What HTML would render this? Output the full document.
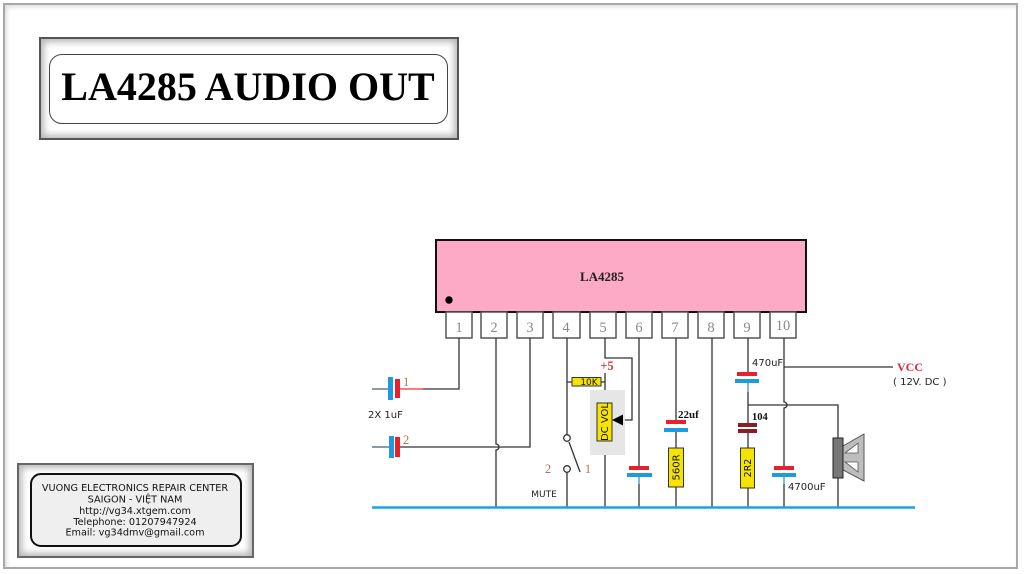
<!DOCTYPE html>
<html>
<head>
<meta charset="utf-8">
<style>
html,body{margin:0;padding:0;background:#fff;}
body{width:1024px;height:574px;position:relative;overflow:hidden;}
.frame{position:absolute;left:3px;top:3px;width:1015px;height:566px;border:2px solid #a8a8a8;box-sizing:border-box;box-shadow:inset 2px 2px 4px #ddd;}
.tbox{position:absolute;left:39px;top:37px;width:420px;height:103px;border:2px solid #555;box-sizing:border-box;background:#fff;box-shadow:inset 0 0 7px 3px #b8b8b8;}
.tin{position:absolute;left:49px;top:54px;width:399px;height:70px;border:1px solid #444;box-sizing:border-box;border-radius:13px;background:#fff;}
.ibox{position:absolute;left:17px;top:463px;width:237px;height:95px;border:2px solid #666;box-sizing:border-box;background:#fff;box-shadow:inset 0 0 7px 3px #b8b8b8;}
.iin{position:absolute;left:30px;top:473px;width:212px;height:74px;border:2px solid #111;box-sizing:border-box;border-radius:11px;background:#efefef;}
svg{position:absolute;left:0;top:0;}
</style>
</head>
<body>
<div class="frame"></div>
<div class="tbox"></div>
<div class="tin"></div>
<div class="ibox"></div>
<div class="iin"></div>
<svg width="1024" height="574" viewBox="0 0 1024 574" xmlns="http://www.w3.org/2000/svg">
  <!-- Title -->
  <text x="248" y="100" text-anchor="middle" font-family="Liberation Serif, serif" font-weight="bold" font-size="40" fill="#000">LA4285 AUDIO OUT</text>

  <!-- Info text -->
  <g font-family="DejaVu Sans, Liberation Sans, sans-serif" font-size="9.7" fill="#111" text-anchor="middle">
    <text x="135" y="491">VUONG ELECTRONICS REPAIR CENTER</text>
    <text x="135" y="502.5">SAIGON - VIỆT NAM</text>
    <text x="135" y="514">http://vg34.xtgem.com</text>
    <text x="135" y="525">Telephone: 01207947924</text>
    <text x="135" y="535.5">Email: vg34dmv@gmail.com</text>
  </g>

  <!-- IC body -->
  <rect x="436" y="240" width="370" height="72" fill="#fcaac6" stroke="#111" stroke-width="2"/>
  <text x="602" y="281" text-anchor="middle" font-family="Liberation Serif, serif" font-weight="bold" font-size="13" fill="#222">LA4285</text>
  <circle cx="449" cy="300" r="3.7" fill="#000"/>

  <!-- Pin boxes -->
  <g fill="#fff" stroke="#555" stroke-width="1.5">
    <rect x="446" y="312" width="26" height="26"/>
    <rect x="481" y="312" width="26" height="26"/>
    <rect x="517" y="312" width="26" height="26"/>
    <rect x="553" y="312" width="27" height="26"/>
    <rect x="590" y="312" width="26" height="26"/>
    <rect x="626" y="312" width="26" height="26"/>
    <rect x="662" y="312" width="26" height="26"/>
    <rect x="698" y="312" width="26" height="26"/>
    <rect x="734" y="312" width="26" height="26"/>
    <rect x="770" y="312" width="26" height="26"/>
  </g>
  <g font-family="Liberation Serif, serif" font-size="14.5" fill="#8a8a8a" text-anchor="middle">
    <text x="459" y="332">1</text>
    <text x="494" y="332">2</text>
    <text x="530" y="332">3</text>
    <text x="566" y="332">4</text>
    <text x="603" y="332">5</text>
    <text x="639" y="332">6</text>
    <text x="675" y="332">7</text>
    <text x="711" y="332">8</text>
    <text x="747" y="332">9</text>
    <text x="783" y="330">10</text>
  </g>

  <!-- Wires -->
  <g fill="none" stroke="#333" stroke-width="1.3">
    <path d="M459 338 V389 H423"/>
    <path d="M496 338 V444 A3 3 0 0 1 496 450 V507"/>
    <path d="M530 338 V447 H400"/>
    <path d="M372 389 H388 M372 447 H389" stroke="#4a5a70"/>
    <path d="M567 338 V435 M567 472 V507 M567 382 H572"/>
    <path d="M605 338 V358 H632 V420 H622"/>
    <path d="M605 373 V403 M605 441 V507 M601 382 H605"/>
    <path d="M569 442 L580 472"/>
    <path d="M639 338 V466 M639 477 V507"/>
    <path d="M676 338 V420 M676 432 V448 M676 487 V507"/>
    <path d="M712 338 V507"/>
    <path d="M748 338 V372 M748 383 V423 M748 433 V448 M748 488 V507"/>
    <path d="M748 405 H838 V438 M838 478 V507"/>
    <path d="M784 338 V402 A3 3 0 0 1 784 408 V466 M784 477 V507"/>
    <path d="M784 367 H893"/>
  </g>
  <path d="M400 389 H423" stroke="#e8303a" stroke-width="1.3"/>

  <!-- Capacitors 1 & 2 -->
  <rect x="388" y="377" width="5" height="23" fill="#1e9be0"/>
  <rect x="395" y="379" width="5" height="19" fill="#e8202e"/>
  <rect x="389" y="436" width="5" height="22" fill="#1e9be0"/>
  <rect x="395" y="437" width="5" height="20" fill="#e8202e"/>
  <g font-family="Liberation Serif, serif" font-size="12.5" fill="#b4705a">
    <text x="403" y="386">1</text>
    <text x="403" y="444">2</text>
    <text x="548" y="473" text-anchor="middle">2</text>
    <text x="588" y="473" text-anchor="middle">1</text>
  </g>
  <text x="368" y="418" font-family="DejaVu Sans, sans-serif" font-size="10" fill="#222">2X 1uF</text>

  <!-- 10K resistor -->
  <rect x="572" y="377.5" width="29" height="8.5" fill="#f4e400" stroke="#333" stroke-width="1"/>
  <text x="589" y="385" text-anchor="middle" font-family="DejaVu Sans, sans-serif" font-size="9" fill="#111">10K</text>
  <text x="607" y="370" text-anchor="middle" font-family="Liberation Serif, serif" font-weight="bold" font-size="12.5" fill="#e8303a">+5</text>

  <!-- DC VOL pot -->
  <rect x="590" y="390" width="35" height="65" fill="#e6e6e6"/>
  <rect x="597" y="403" width="15" height="38" fill="#f4e400" stroke="#333" stroke-width="1"/>
  <text transform="translate(604.5 422) rotate(-90)" x="0" y="3.6" text-anchor="middle" font-family="DejaVu Sans, sans-serif" font-size="10" fill="#111">DC VOL</text>
  <polygon points="612,420 623,414.5 623,425.5" fill="#000"/>

  <!-- MUTE switch -->
  <circle cx="567" cy="438" r="3.3" fill="#fff" stroke="#333" stroke-width="1.3"/>
  <circle cx="567" cy="469" r="3.3" fill="#fff" stroke="#333" stroke-width="1.3"/>
  <text x="544" y="497" text-anchor="middle" font-family="DejaVu Sans, sans-serif" font-size="9" fill="#222">MUTE</text>

  <!-- pin6 cap -->
  <rect x="629" y="466" width="20" height="4" fill="#e8202e"/>
  <rect x="627" y="473" width="25" height="4" fill="#1e9be0"/>
  <line x1="639" y1="477" x2="639" y2="484" stroke="#5ab4e8" stroke-width="1.3"/>

  <!-- pin7 cap + resistor -->
  <rect x="666" y="420" width="20" height="4" fill="#e8202e"/>
  <rect x="664" y="428" width="24" height="4" fill="#1e9be0"/>
  <text x="678" y="418" font-family="Liberation Serif, serif" font-weight="bold" font-size="11" fill="#111">22uf</text>
  <rect x="668.5" y="448" width="15" height="39" fill="#f4e400" stroke="#333" stroke-width="1"/>
  <text transform="translate(676 467.5) rotate(-90)" x="0" y="3.6" text-anchor="middle" font-family="DejaVu Sans, sans-serif" font-size="10" fill="#111">560R</text>

  <!-- pin9 470uF -->
  <rect x="737" y="372" width="20" height="4" fill="#e8202e"/>
  <rect x="735" y="379" width="24" height="4" fill="#1e9be0"/>
  <line x1="748" y1="383" x2="748" y2="392" stroke="#5ab4e8" stroke-width="1.3"/>
  <text x="752" y="366" font-family="DejaVu Sans, sans-serif" font-size="10" fill="#222">470uF</text>
  <rect x="738" y="423" width="19" height="4" fill="#8b1c24"/>
  <rect x="738" y="429" width="19" height="4" fill="#8b1c24"/>
  <text x="752" y="420" font-family="Liberation Serif, serif" font-weight="bold" font-size="10.5" fill="#111">104</text>
  <rect x="740.5" y="448" width="14" height="40" fill="#f4e400" stroke="#333" stroke-width="1"/>
  <text transform="translate(747.5 468) rotate(-90)" x="0" y="3.4" text-anchor="middle" font-family="DejaVu Sans, sans-serif" font-size="9.5" fill="#111">2R2</text>

  <!-- pin10 4700uF -->
  <rect x="774" y="466" width="20" height="4" fill="#e8202e"/>
  <rect x="772" y="473" width="24" height="4" fill="#1e9be0"/>
  <line x1="784" y1="477" x2="784" y2="484" stroke="#5ab4e8" stroke-width="1.3"/>
  <text x="788" y="490" font-family="DejaVu Sans, sans-serif" font-size="10" fill="#222">4700uF</text>

  <!-- VCC -->
  <text x="897" y="371" font-family="Liberation Serif, serif" font-weight="bold" font-size="12" fill="#e0283a">VCC</text>
  <text x="893" y="385" font-family="DejaVu Sans, sans-serif" font-size="10" fill="#222">( 12V. DC )</text>

  <!-- Speaker -->
  <polygon points="843,446 864,434 864,481 843,470" fill="#bdbdbd" stroke="#555" stroke-width="1"/>
  <polygon points="845,453 858,443 858,453" fill="#fff" stroke="#555" stroke-width="0.8"/>
  <polygon points="845,462 858,462 858,472" fill="#fff" stroke="#555" stroke-width="0.8"/>
  <rect x="833" y="438" width="10" height="40" fill="#777" stroke="#222" stroke-width="1"/>

  <!-- Ground line -->
  <line x1="372" y1="507.5" x2="915" y2="507.5" stroke="#1aa3e8" stroke-width="2.5"/>
</svg>
</body>
</html>
